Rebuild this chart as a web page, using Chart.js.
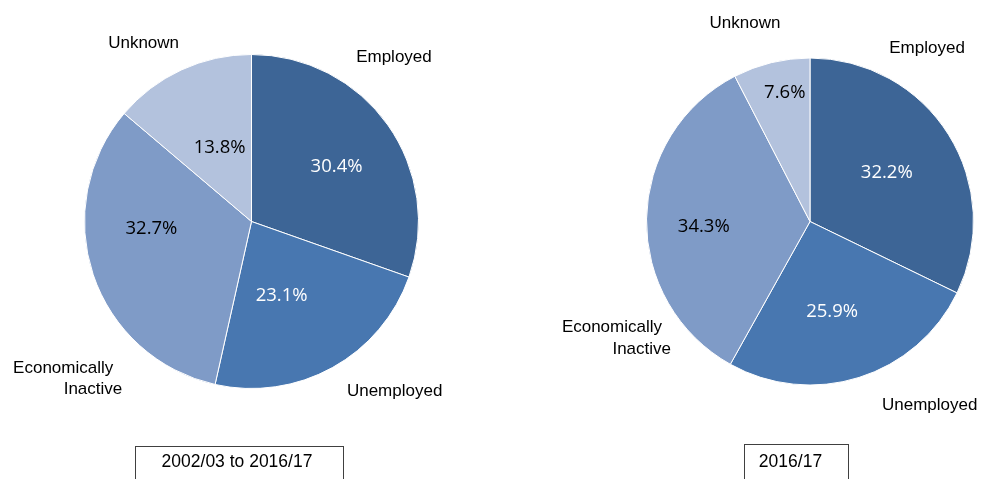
<!DOCTYPE html>
<html><head><meta charset="utf-8">
<script src="https://cdn.jsdelivr.net/npm/chart.js@4"></script>
<style>
html,body{margin:0;padding:0;background:#fff;overflow:hidden}
#wrap{position:relative;width:983px;height:479px}
canvas{position:absolute;top:0}
#c1{left:0}
#c2{left:491px}
</style></head><body>
<div id="wrap">
<canvas id="c1" width="491" height="479"></canvas>
<canvas id="c2" width="492" height="479"></canvas>
</div>
<script>
// ---- data ----
const categories = ['Employed', 'Unemployed', 'Economically Inactive', 'Unknown'];
const periodLabels = ['2002/03 to 2016/17', '2016/17'];
const valuesAllYears = [30.4, 23.1, 32.7, 13.8];   // 2002/03 to 2016/17
const values2016_17 = [32.2, 25.9, 34.3, 7.6];      // 2016/17

// ---- styles ----
const sliceColors = ['#3D6596', '#4877B0', '#7F9BC7', '#B3C2DD'];
const pctColors = ['#FFFFFF', '#FFFFFF', '#000000', '#000000'];
const wrapLabel = [false, false, true, false];

const labelPlugin = {
  id: 'pieLabels',
  afterDatasetsDraw(chart, args, opts) {
    const ctx = chart.ctx;
    const meta = chart.getDatasetMeta(0);
    const ds = chart.data.datasets[0];
    ctx.save();
    meta.data.forEach((arc, i) => {
      const p = arc.getProps(['x', 'y', 'startAngle', 'endAngle', 'outerRadius'], true);
      const R = p.outerRadius;
      // percentage inside the slice
      const ip = opts.inner[i];
      const a = (p.startAngle + p.endAngle) / 2 + ip.da * Math.PI / 180;
      const tx = p.x + Math.cos(a) * R * ip.f;
      const ty = p.y + Math.sin(a) * R * ip.f;
      ctx.font = '18.5px "Open Sans"';
      ctx.fillStyle = pctColors[i];
      ctx.textAlign = 'center';
      ctx.textBaseline = 'middle';
      ctx.fillText(ds.data[i].toFixed(1) + '%', tx, ty + 1.5);
      // category label outside
      const op = opts.outer[i];
      const ox = p.x + op.dx * R;
      const oy = p.y + op.dy * R + 0.8;
      ctx.font = '17px "Liberation Sans", Arial, sans-serif';
      ctx.fillStyle = '#000000';
      const label = chart.data.labels[i];
      if (wrapLabel[i]) {
        const lines = label.split(' ');
        ctx.textAlign = 'right';
        ctx.fillText(lines[0], ox - 9, oy - 10.8);
        ctx.fillText(lines[1], ox, oy + 10.8);
      } else {
        ctx.textAlign = 'center';
        ctx.fillText(label, ox, oy);
      }
    });
    // period box
    const b = opts.box;
    ctx.strokeStyle = '#404040';
    ctx.lineWidth = 1;
    ctx.strokeRect(b.x + 0.5, b.y + 0.5, b.w, 60);
    ctx.font = '17.5px "Liberation Sans", Arial, sans-serif';
    ctx.fillStyle = '#000000';
    ctx.textAlign = 'center';
    ctx.textBaseline = 'middle';
    ctx.fillText(opts.title, b.tx, b.ty);
    ctx.restore();
  }
};

function makeChart(id, values, title, padding, placement) {
  return new Chart(document.getElementById(id), {
    type: 'pie',
    data: {
      labels: categories,
      datasets: [{
        data: values,
        backgroundColor: sliceColors,
        borderColor: '#FFFFFF',
        borderWidth: 1
      }]
    },
    options: {
      responsive: false,
      animation: false,
      events: [],
      layout: { padding: padding },
      plugins: {
        legend: { display: false },
        tooltip: { enabled: false },
        pieLabels: Object.assign({ title: title }, placement)
      }
    },
    plugins: [labelPlugin]
  });
}

makeChart('c1', valuesAllYears, periodLabels[0],
  { left: 84, right: 72, top: 54, bottom: 90 },
  {
    inner: [{ da: 1.9, f: 0.61 }, { da: 6.4, f: 0.47 }, { da: 15.5, f: 0.60 }, { da: 1.9, f: 0.49 }],
    outer: [{ dx: 0.853, dy: -0.985 }, { dx: 0.857, dy: 1.015 }, { dx: -0.774, dy: 0.938 }, { dx: -0.646, dy: -1.069 }],
    box: { x: 135, y: 446, w: 208, tx: 237, ty: 462.5 }
  });

makeChart('c2', values2016_17, periodLabels[1],
  { left: 155, right: 9, top: 57.5, bottom: 93.5 },
  {
    inner: [{ da: -1, f: 0.56 }, { da: 3.5, f: 0.56 }, { da: -3, f: 0.65 }, { da: 2.7, f: 0.81 }],
    outer: [{ dx: 0.716, dy: -1.067 }, { dx: 0.732, dy: 1.121 }, { dx: -0.850, dy: 0.708 }, { dx: -0.398, dy: -1.217 }],
    box: { x: 253, y: 444, w: 104, tx: 299.5, ty: 462.5 }
  });
</script>
</body></html>
